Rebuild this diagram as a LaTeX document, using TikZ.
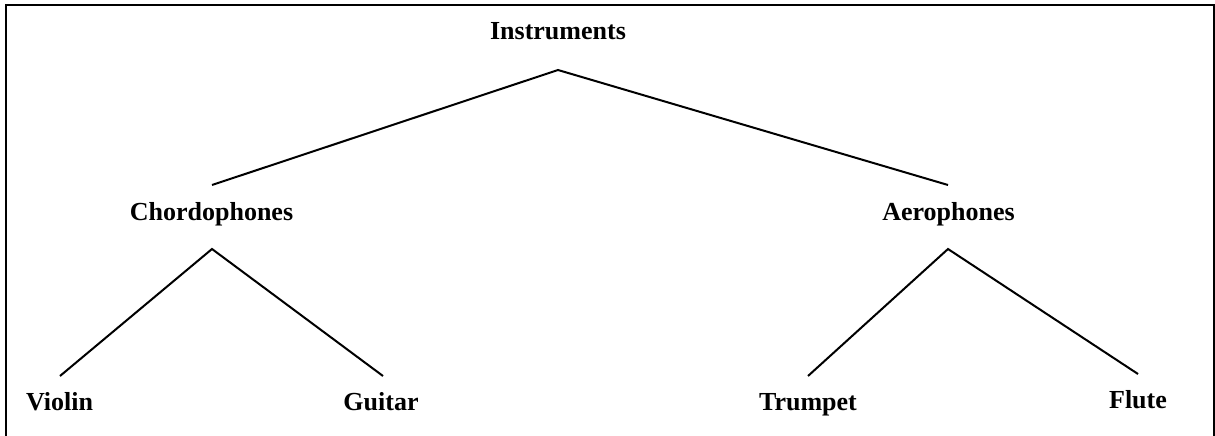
\documentclass[tikz,border=0pt]{standalone}
\usepackage{fontspec}
\setmainfont{Liberation Serif}
\begin{document}
\begin{tikzpicture}[x=1pt,y=-1pt,
  label/.style={anchor=base,inner sep=0pt,font=\fontsize{26}{30}\selectfont\bfseries},
  branch/.style={line width=2pt,line cap=butt}]
\useasboundingbox (0,0) rectangle (1215,436);
% frame (bottom edge runs off the page)
\draw[line width=2pt] (6,445) -- (6,5) -- (1214,5) -- (1214,445);

% labels
\node[label] (instr) at (558,40) {Instruments};
\node[label] (chord) at (211.5,220) {Chordophones};
\node[label] (aero)  at (948.5,220) {Aerophones};
\node[label] (violin) at (59.5,410) {Violin};
\node[label] (guitar) at (381,410) {Guitar};
\node[label] (trumpet) at (808,410) {Trumpet};
\node[label] (flute) at (1138,408) {Flute};

% branch points
\coordinate (instr-fork) at (558,70);
\coordinate (chord-top) at (212,185);
\coordinate (aero-top) at (948,185);
\coordinate (chord-fork) at (212,249);
\coordinate (aero-fork) at (948,249);
\coordinate (violin-top) at (60,376);
\coordinate (guitar-top) at (383,376);
\coordinate (trumpet-top) at (808,376);
\coordinate (flute-top) at (1138,374);

% tree branches
\draw[branch] (chord-top) -- (instr-fork) -- (aero-top);
\draw[branch] (violin-top) -- (chord-fork) -- (guitar-top);
\draw[branch] (trumpet-top) -- (aero-fork) -- (flute-top);
\end{tikzpicture}
\end{document}
